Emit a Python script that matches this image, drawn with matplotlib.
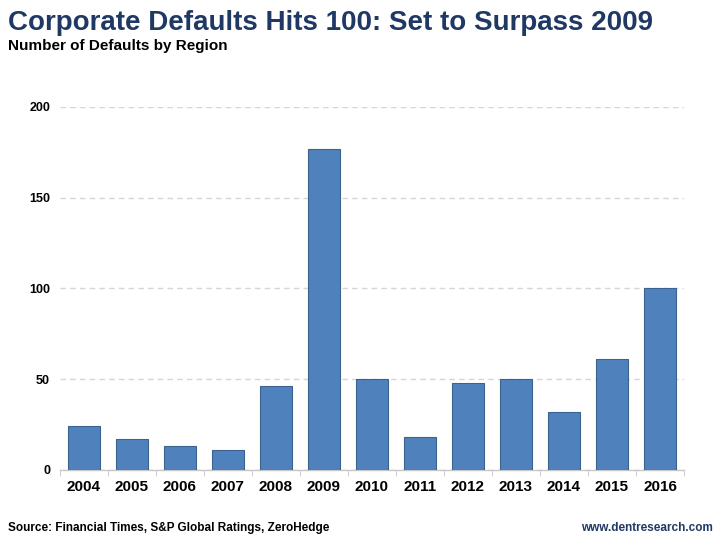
import matplotlib
matplotlib.use("Agg")
import matplotlib.pyplot as plt
from matplotlib.ticker import FixedLocator

years = ["2004", "2005", "2006", "2007", "2008", "2009", "2010",
         "2011", "2012", "2013", "2014", "2015", "2016"]
defaults = [24, 17, 13, 11, 46, 177, 50, 18, 48, 50, 32, 61, 100]
yticks = [0, 50, 100, 150, 200]

plt.rcParams['font.family'] = ['Liberation Sans', 'DejaVu Sans']

fig = plt.figure(figsize=(7.2, 5.4), dpi=100)
ax = fig.add_axes([0.083, 0.13, 0.867, 0.672])

x = list(range(len(years)))
ax.bar(x, defaults, width=0.66, color="#4F81BD", edgecolor="#3B6291",
       linewidth=0.8, zorder=3)

ax.set_xlim(-0.5, len(years) - 0.5)
ax.set_ylim(0, 200)
ax.set_yticks(yticks)
ax.set_yticklabels([str(t) for t in yticks], fontsize=9, fontweight="bold")
ax.set_xticks(x)
ax.set_xticklabels(years, fontsize=11, fontweight="bold")
ax.xaxis.set_minor_locator(FixedLocator([i - 0.5 for i in range(len(years) + 1)]))
ax.tick_params(axis="x", which="major", length=0, pad=7)
ax.tick_params(axis="x", which="minor", length=4, color="#C8C8C8", direction="out")
ax.tick_params(axis="y", length=0, pad=7)

ax.yaxis.grid(True, linestyle=(0, (4, 3)), color="#D6D6D6", linewidth=1, zorder=0)
for s in ["top", "right", "left"]:
    ax.spines[s].set_visible(False)
ax.spines["bottom"].set_color("#C8C8C8")
ax.spines["bottom"].set_linewidth(1)

fig.text(0.011, 0.958, "Corporate Defaults Hits 100: Set to Surpass 2009",
         fontsize=20, fontweight="bold", color="#1F3864", va="center", ha="left")
fig.text(0.011, 0.914, "Number of Defaults by Region",
         fontsize=11, fontweight="bold", color="black", va="center", ha="left")
fig.text(0.011, 0.022, "Source: Financial Times, S&P Global Ratings, ZeroHedge",
         fontsize=8.5, fontweight="bold", color="black", va="center", ha="left")
fig.text(0.99, 0.022, "www.dentresearch.com",
         fontsize=8.5, fontweight="bold", color="#1F3864", va="center", ha="right")

fig.savefig("out.png", dpi=100)
